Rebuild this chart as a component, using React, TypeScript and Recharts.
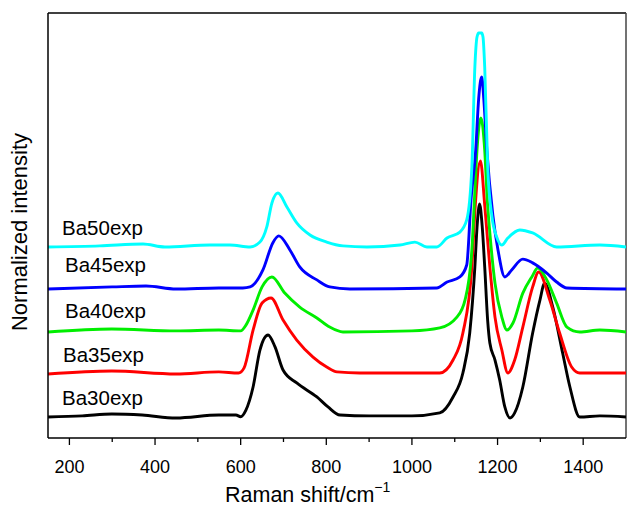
import React from "react";
import { LineChart, Line, XAxis, YAxis, ReferenceLine, Customized } from "recharts";

// Raman shift (cm-1) and normalized intensity
const ba30Shift = [150, 230, 299, 370, 449, 549, 589, 600, 612, 629, 645, 664, 680, 699, 731, 778, 804, 832, 900, 1000, 1065, 1096, 1119, 1135, 1147, 1152, 1158, 1164, 1170, 1177, 1182, 1194, 1205, 1217, 1229, 1240, 1259, 1282, 1299, 1310, 1329, 1352, 1369, 1392, 1439, 1500];
const ba30Int = [0.99, 1.04, 1.13, 1.08, 0.94, 1.08, 1.08, 1.0, 1.3, 2.4, 4.14, 4.85, 4.3, 3.2, 2.59, 1.93, 1.46, 1.08, 1.04, 1.04, 1.18, 1.93, 3.06, 4.94, 8.05, 9.9, 11.01, 10.0, 8.05, 5.5, 4.47, 3.67, 2.73, 1.46, 0.94, 1.18, 2.4, 4.94, 6.49, 7.29, 6.16, 4.0, 2.4, 0.99, 1.04, 0.99];

const ba35Shift = [150, 299, 449, 549, 595, 608, 629, 650, 671, 699, 731, 769, 801, 825, 878, 1000, 1065, 1096, 1119, 1140, 1148, 1160, 1170, 1182, 1194, 1210, 1224, 1240, 1259, 1282, 1296, 1322, 1345, 1373, 1392, 1500];
const ba35Int = [3.01, 3.15, 3.01, 3.11, 3.06, 3.3, 5.08, 6.35, 6.59, 5.55, 4.61, 3.81, 3.34, 3.11, 3.06, 3.06, 3.06, 3.67, 4.94, 8.05, 10.96, 13.04, 10.96, 8.05, 5.69, 4.14, 3.06, 3.67, 5.22, 7.11, 7.81, 6.49, 4.94, 3.34, 3.06, 3.06];

const ba40Shift = [150, 299, 449, 549, 600, 612, 629, 650, 673, 703, 738, 778, 808, 839, 1000, 1065, 1105, 1124, 1140, 1146, 1152, 1161, 1170, 1176, 1182, 1194, 1210, 1222, 1236, 1259, 1280, 1294, 1315, 1338, 1362, 1392, 1439, 1500];
const ba40Int = [4.99, 5.13, 5.04, 5.08, 5.04, 5.3, 6.02, 7.11, 7.58, 6.82, 6.16, 5.65, 5.22, 4.99, 5.04, 5.18, 5.69, 6.49, 8.85, 11.2, 13.55, 15.06, 13.55, 11.2, 9.65, 7.29, 5.69, 5.08, 5.41, 6.82, 7.58, 8.0, 7.44, 6.35, 5.22, 4.99, 5.08, 4.99];

const ba45Shift = [150, 300, 379, 449, 549, 605, 622, 652, 675, 689, 715, 738, 778, 808, 855, 1058, 1082, 1112, 1128, 1138, 1149, 1156, 1163, 1168, 1175, 1189, 1201, 1217, 1233, 1259, 1282, 1315, 1338, 1362, 1500];
const ba45Int = [7.01, 7.11, 7.15, 7.01, 7.06, 7.06, 7.11, 7.91, 9.18, 9.51, 8.85, 8.05, 7.44, 7.11, 7.01, 7.06, 7.34, 7.58, 8.14, 11.2, 13.55, 16.0, 16.99, 15.91, 13.55, 10.49, 8.85, 7.58, 7.91, 8.42, 8.24, 7.76, 7.34, 7.06, 7.01];

const ba50Shift = [150, 271, 372, 423, 528, 575, 622, 645, 661, 673, 687, 708, 731, 762, 801, 839, 895, 972, 1007, 1035, 1058, 1082, 1112, 1128, 1140, 1147, 1152, 1156, 1163, 1166, 1170, 1177, 1187, 1198, 1210, 1224, 1252, 1282, 1338, 1439, 1500];
const ba50Int = [8.99, 9.04, 9.13, 8.99, 9.08, 9.08, 8.99, 9.22, 9.93, 11.06, 11.53, 10.87, 10.12, 9.55, 9.22, 9.04, 8.99, 9.08, 9.22, 8.99, 8.99, 9.41, 9.69, 10.26, 12.75, 17.46, 18.87, 19.06, 19.06, 18.87, 17.46, 12.75, 10.4, 9.46, 9.08, 9.41, 9.79, 9.65, 8.99, 9.08, 8.99];

const seriesNames = ["Ba30exp", "Ba35exp", "Ba40exp", "Ba45exp", "Ba50exp"];
const xTicks = [200, 300, 400, 500, 600, 700, 800, 900, 1000, 1100, 1200, 1300, 1400];
const yTicks = [1, 2, 3, 4, 5, 6, 7, 8, 9, 10, 11, 12, 13, 14, 15, 16, 17, 18, 19];

const toPoints = (xs: number[], ys: number[]) => xs.map((x, i) => ({ x, y: ys[i] }));

const series = [
  { name: seriesNames[0], data: toPoints(ba30Shift, ba30Int), color: "#000000" },
  { name: seriesNames[1], data: toPoints(ba35Shift, ba35Int), color: "#ff0000" },
  { name: seriesNames[2], data: toPoints(ba40Shift, ba40Int), color: "#00ee00" },
  { name: seriesNames[3], data: toPoints(ba45Shift, ba45Int), color: "#0000ff" },
  { name: seriesNames[4], data: toPoints(ba50Shift, ba50Int), color: "#00ffff" },
];

const font = "Arial, 'Liberation Sans', sans-serif";

// label positions in px (left, baseline)
const labelPos = [
  [62, 405],
  [63, 362],
  [65, 318],
  [65, 272],
  [62, 235],
];

const XTick = (props: any) => {
  const { x, y, payload } = props;
  const major = payload.value % 200 === 0;
  return (
    <g>
      <line x1={x} x2={x} y1={y} y2={y + (major ? 7 : 4)} stroke="#000" strokeWidth={1.3} />
      {major && (
        <text x={x} y={y + 22} dy="0.71em" textAnchor="middle" fontSize={18} fontFamily={font} fill="#000">
          {payload.value}
        </text>
      )}
    </g>
  );
};

const Texts = () => (
  <g fontFamily={font} fill="#000">
    {series.map((s, i) => (
      <text key={s.name} x={labelPos[i][0]} y={labelPos[i][1]} fontSize={20.5}>
        {s.name}
      </text>
    ))}
    <text x={225} y={502} fontSize={21.5}>
      Raman shift/cm
      <tspan fontSize={14} dy={-10}>−1</tspan>
    </text>
    <text x={27} y={232} fontSize={22} textAnchor="middle" transform="rotate(-90 27 232)">
      Normalized intensity
    </text>
  </g>
);

export default function App() {
  return (
    <div style={{ position: "absolute", left: 0, top: 0, background: "#fff" }}>
      <LineChart width={627} height={509} margin={{ top: 13, right: 1, left: 0, bottom: 0 }}>
        <XAxis
          type="number"
          dataKey="x"
          domain={[150, 1500]}
          ticks={xTicks}
          allowDataOverflow
          height={71}
          tickLine={false}
          tickSize={0}
          tickMargin={0}
          tick={<XTick />}
          axisLine={{ stroke: "#000", strokeWidth: 1.5 }}
          interval={0}
        />
        <YAxis
          type="number"
          domain={[0, 20]}
          ticks={yTicks}
          width={48}
          tick={false}
          tickSize={-2}
          tickLine={{ stroke: "#999" }}
          axisLine={{ stroke: "#000", strokeWidth: 1.5 }}
        />
        <ReferenceLine y={20} stroke="#000" strokeWidth={1.5} />
        <ReferenceLine x={1500} stroke="#444" strokeWidth={1.5} />
        {series.map((s) => (
          <Line
            key={s.name}
            data={s.data}
            dataKey="y"
            type="monotone"
            stroke={s.color}
            strokeWidth={2.9}
            dot={false}
            isAnimationActive={false}
          />
        ))}
        <Customized component={Texts} />
      </LineChart>
    </div>
  );
}
